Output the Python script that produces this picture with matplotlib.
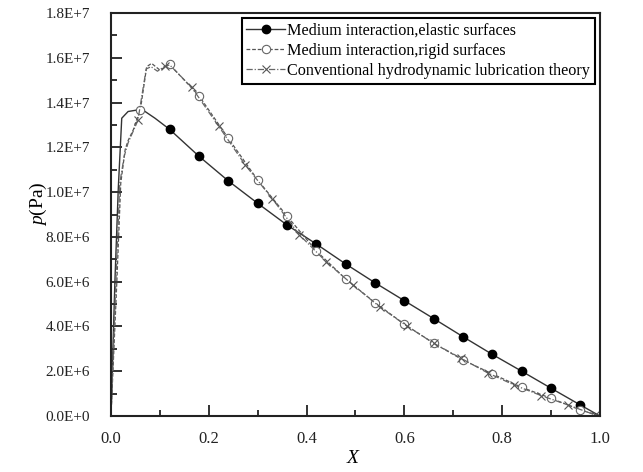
import numpy as np
import matplotlib
matplotlib.use('Agg')
import matplotlib.pyplot as plt
import matplotlib.ticker as mtick

# X position along the film, pressure in units of 1E+6 Pa
x_elastic = [0, 0.008, 0.015, 0.022, 0.035, 0.063, 0.09, 0.12, 0.18, 0.24, 0.30, 0.36,
             0.42, 0.48, 0.54, 0.60, 0.66, 0.72, 0.78, 0.84, 0.90, 0.96, 1.0]
p_elastic = [0, 6.0, 10.2, 13.3, 13.6, 13.7, 13.3, 12.8, 11.6, 10.5, 9.5, 8.53,
             7.68, 6.79, 5.95, 5.15, 4.35, 3.54, 2.75, 2.0, 1.24, 0.49, 0]
mark_elastic = list(range(7, 22))

x_rigid = [0, 0.012, 0.020, 0.029, 0.035, 0.046, 0.052, 0.06, 0.073, 0.083, 0.10, 0.12,
           0.18, 0.24, 0.30, 0.36, 0.42, 0.48, 0.54, 0.60, 0.66, 0.72, 0.78, 0.84,
           0.90, 0.96, 1.0]
p_rigid = [0, 6.0, 10.4, 11.9, 12.3, 12.8, 13.2, 13.66, 15.6, 15.75, 15.45, 15.7,
           14.3, 12.4, 10.54, 8.93, 7.37, 6.12, 5.06, 4.1, 3.25, 2.5, 1.88, 1.28,
           0.79, 0.27, 0]
mark_rigid = [7] + list(range(11, 26))

x_conv = [0, 0.010, 0.018, 0.027, 0.035, 0.045, 0.055, 0.072, 0.082, 0.095, 0.11, 0.12,
          0.165, 0.22, 0.275, 0.33, 0.385, 0.44, 0.495, 0.55, 0.605, 0.66, 0.715,
          0.77, 0.825, 0.88, 0.935, 0.99, 1.0]
p_conv = [0, 6.0, 10.4, 11.6, 12.2, 12.7, 13.2, 15.5, 15.6, 15.4, 15.62, 15.68,
          14.68, 12.95, 11.2, 9.7, 8.1, 6.89, 5.85, 4.87, 4.02, 3.25, 2.59,
          1.93, 1.38, 0.91, 0.49, 0.05, 0]
mark_conv = [6, 10] + list(range(12, 28))

labels = ['Medium interaction,elastic surfaces',
          'Medium interaction,rigid surfaces',
          'Conventional hydrodynamic lubrication theory']


def sci_fmt(v, pos):
    if v == 0:
        return '0.0E+0'
    e = int(np.floor(np.log10(abs(v)) + 1e-9))
    return '%.1fE+%d' % (v / 10 ** e, e)


plt.rcParams['font.family'] = ['Liberation Serif', 'DejaVu Serif']
plt.rcParams['mathtext.fontset'] = 'custom'
plt.rcParams['mathtext.it'] = 'Liberation Serif:italic'
plt.rcParams['mathtext.rm'] = 'Liberation Serif'

fig = plt.figure(figsize=(6.43, 4.72), dpi=100)
ax = fig.add_axes([0.1726, 0.1186, 0.7605, 0.8539])

ax.plot(x_elastic, np.array(p_elastic) * 1e6, '-', color='#333333', lw=1.0,
        marker='o', ms=6, mfc='black', mec='black', markevery=mark_elastic,
        label=labels[0])
ax.plot(x_rigid, np.array(p_rigid) * 1e6, '--', color='#555555', lw=0.9,
        dashes=(3, 1.5), marker='o', ms=6, mfc='white', mec='#666666', mew=0.8,
        markevery=mark_rigid, label=labels[1])
ax.plot(x_conv, np.array(p_conv) * 1e6, '-.', color='#666666', lw=0.9,
        dashes=(5, 1.5, 1, 1.5), marker='x', ms=6, mec='#555555', mew=0.8,
        markevery=mark_conv, label=labels[2])

ax.set_xlim(0, 1.0)
ax.set_ylim(0, 1.8e7)
ax.xaxis.set_major_locator(mtick.MultipleLocator(0.2))
ax.xaxis.set_minor_locator(mtick.MultipleLocator(0.1))
ax.yaxis.set_major_locator(mtick.MultipleLocator(2e6))
ax.yaxis.set_minor_locator(mtick.MultipleLocator(1e6))
ax.yaxis.set_major_formatter(mtick.FuncFormatter(sci_fmt))
ax.xaxis.set_major_formatter(mtick.FormatStrFormatter('%.1f'))
ax.tick_params(which='both', direction='in', top=False, right=False,
               labelcolor='#222222', width=1.3, color='#222222')
ax.tick_params(which='major', length=8)
ax.tick_params(which='minor', length=4)
ax.tick_params(axis='y', which='major', pad=15, labelsize=11)
ax.tick_params(axis='x', which='major', pad=11, labelsize=12)
for s in ax.spines.values():
    s.set_linewidth(1.5)
    s.set_color('#222222')

ax.set_xlabel('X', fontsize=14, style='italic')
ax.set_ylabel('$p$(Pa)', fontsize=14)
ax.xaxis.set_label_coords(0.495, -0.084)
ax.yaxis.set_label_coords(-0.127, 0.528)

leg = ax.legend(loc='upper right', fontsize=11.6, frameon=True, fancybox=False,
                borderaxespad=0.3, borderpad=0.3, labelspacing=0.25,
                handlelength=2.4, handletextpad=0.15, shadow=False)
leg.get_frame().set_edgecolor('black')
leg.get_frame().set_linewidth(1.5)
leg.get_frame().set_alpha(1)

fig.savefig('out.png', dpi=100)
